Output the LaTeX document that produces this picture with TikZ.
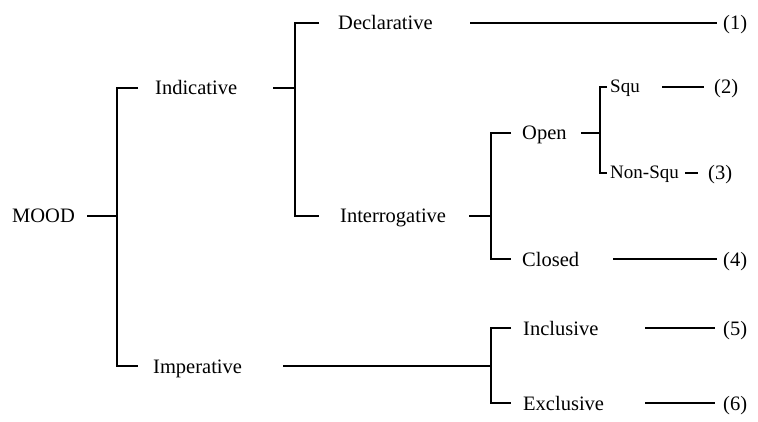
\documentclass[tikz,border=0pt]{standalone}
\usepackage{fontspec}
\setmainfont{Liberation Serif}
\begin{document}
\begin{tikzpicture}[x=1pt,y=-1pt,
  lbl/.style={anchor=base west, inner sep=0pt, font=\fontsize{20.5}{24}\selectfont},
  sml/.style={lbl, font=\fontsize{19}{22}\selectfont},
  ln/.style={line width=2.2pt, line cap=butt, line join=miter}]
\useasboundingbox (0,0) rectangle (758,422);
% labels
\node[lbl] (mood) at (12,223) {MOOD};
\node[lbl] (ind) at (155,95) {Indicative};
\node[lbl] (imp) at (153,373) {Imperative};
\node[lbl] (dec) at (338,30) {Declarative};
\node[lbl] (int) at (340,223) {Interrogative};
\node[lbl] (open) at (522,140) {Open};
\node[lbl] (clo) at (522,266) {Closed};
\node[sml] (squ) at (610,93) {Squ};
\node[sml] (nsq) at (610,179) {Non-Squ};
\node[lbl] (inc) at (523,335) {Inclusive};
\node[lbl] (exc) at (523,410) {Exclusive};
\node[lbl] (n1) at (723,30) {(1)};
\node[lbl] (n2) at (714,94) {(2)};
\node[lbl] (n3) at (708,180) {(3)};
\node[lbl] (n4) at (723,266) {(4)};
\node[lbl] (n5) at (723,335) {(5)};
\node[lbl] (n6) at (723,410) {(6)};
% bracket 1 (MOOD)
\coordinate (m0) at (87,216);  \coordinate (m1) at (117,216);
\coordinate (b1t) at (117,88); \coordinate (b1b) at (117,366);
\coordinate (b1te) at (138,88); \coordinate (b1be) at (138,366);
\draw[ln] (m0) -- (m1);
\draw[ln] (b1te) -- (b1t) -- (b1b) -- (b1be);
% bracket 2 (Indicative)
\coordinate (i0) at (273,88); \coordinate (i1) at (295,88);
\coordinate (b2t) at (295,23); \coordinate (b2b) at (295,216);
\coordinate (b2te) at (319,23); \coordinate (b2be) at (319,216);
\draw[ln] (i0) -- (i1);
\draw[ln] (b2te) -- (b2t) -- (b2b) -- (b2be);
% Declarative line
\coordinate (d0) at (470,23); \coordinate (d1) at (717,23);
\draw[ln] (d0) -- (d1);
% bracket 3 (Interrogative)
\coordinate (r0) at (469,216); \coordinate (r1) at (491,216);
\coordinate (b3t) at (491,133); \coordinate (b3b) at (491,259);
\coordinate (b3te) at (511,133); \coordinate (b3be) at (511,259);
\draw[ln] (r0) -- (r1);
\draw[ln] (b3te) -- (b3t) -- (b3b) -- (b3be);
% Closed line
\coordinate (c0) at (613,259); \coordinate (c1) at (717,259);
\draw[ln] (c0) -- (c1);
% bracket 4 (Open)
\coordinate (o0) at (581,133); \coordinate (o1) at (600,133);
\coordinate (b4t) at (600,87); \coordinate (b4b) at (600,173);
\coordinate (b4te) at (607,87); \coordinate (b4be) at (607,173);
\draw[ln] (o0) -- (o1);
\draw[ln] (b4te) -- (b4t) -- (b4b) -- (b4be);
% Squ, Non-Squ lines
\coordinate (s0) at (662,87); \coordinate (s1) at (704,87);
\draw[ln] (s0) -- (s1);
\coordinate (q0) at (685,173); \coordinate (q1) at (698,173);
\draw[ln] (q0) -- (q1);
% bracket 5 (Imperative)
\coordinate (p0) at (283,366); \coordinate (p1) at (491,366);
\coordinate (b5t) at (491,328); \coordinate (b5b) at (491,403);
\coordinate (b5te) at (511,328); \coordinate (b5be) at (511,403);
\draw[ln] (p0) -- (p1);
\draw[ln] (b5te) -- (b5t) -- (b5b) -- (b5be);
% Inclusive, Exclusive lines
\coordinate (e0) at (645,328); \coordinate (e1) at (715,328);
\draw[ln] (e0) -- (e1);
\coordinate (x0) at (645,403); \coordinate (x1) at (715,403);
\draw[ln] (x0) -- (x1);
\end{tikzpicture}
\end{document}
